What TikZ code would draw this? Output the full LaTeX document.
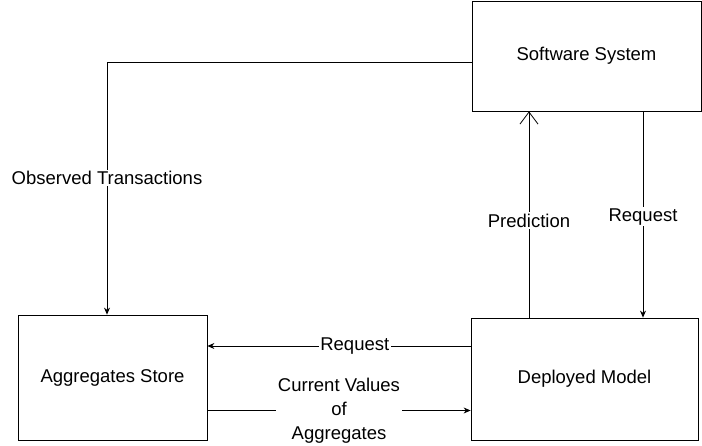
\documentclass[tikz,border=0pt]{standalone}
\usepackage{fontspec}
\setmainfont{Liberation Sans}
\usetikzlibrary{arrows.meta}
\begin{document}
\begin{tikzpicture}[x=1pt, y=-1pt, line width=0.8pt,
  font=\fontsize{18.5}{24}\selectfont,
  box/.style={draw, align=center, inner sep=0pt},
  lbl/.style={fill=white, inner sep=1.5pt, align=center},
  flow/.style={-{Stealth[length=7pt, width=6pt]}},
  reply/.style={-{Straight Barb[length=12pt, width=18pt]}}]
  \useasboundingbox (0,0) rectangle (702,446);

  % boxes
  \node[box, minimum width=229pt, minimum height=110pt] (sys) at (586.5,56) {Software System};
  \node[box, minimum width=189pt, minimum height=125pt] (store) at (112.5,377.5) {Aggregates Store};
  \node[box, minimum width=227pt, minimum height=122pt] (model) at (584.5,379) {Deployed Model};

  % connectors
  \draw[flow] ([yshift=-6pt]sys.west) -| ([xshift=-5.5pt]store.north)
    node[lbl, pos=0.73] {Observed Transactions};
  \draw[reply] ([xshift=-55.5pt]model.north) -- ([xshift=-57.5pt]sys.south)
    node[lbl, pos=0.47] {Prediction};
  \draw[flow] ([xshift=56.5pt]sys.south) -- ([xshift=58.5pt]model.north)
    node[lbl, pos=0.51] {Request};
  \draw[flow] ([yshift=33pt]model.west) coordinate (r1) -- (r1 -| store.east)
    node[lbl, pos=0.44] {Request};
  \draw[flow] ([yshift=-33pt]store.east) coordinate (c1) -- (c1 -| model.west)
    node[lbl, pos=0.5] {Current Values\\of\\Aggregates};
\end{tikzpicture}
\end{document}
